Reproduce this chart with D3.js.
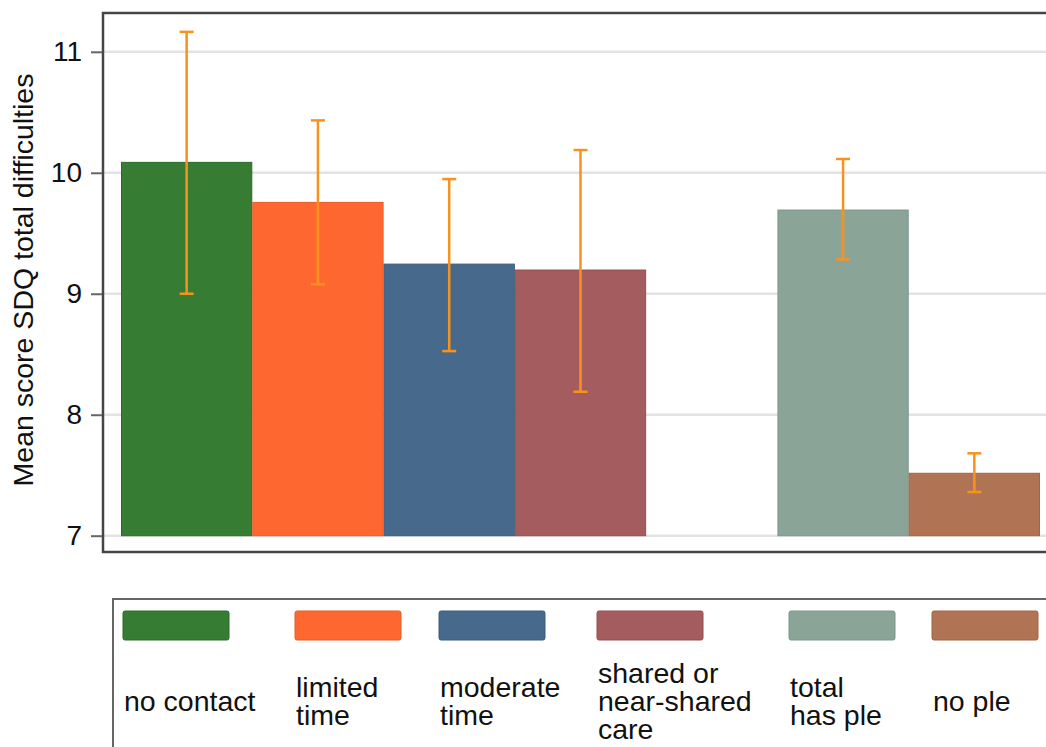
<!DOCTYPE html>
<html>
<head>
<meta charset="utf-8">
<script src="https://cdn.jsdelivr.net/npm/d3@7"></script>
<style>
  html, body { margin: 0; padding: 0; background: #fff; }
  svg { display: block; font-family: "Liberation Sans", Arial, Helvetica, sans-serif; }
</style>
</head>
<body>
<svg id="chart" width="1046" height="747"></svg>
<script>
// ---- data ----
const categories = ["no contact", "limited time", "moderate time", "shared or near-shared care", "total has ple", "no ple"];
const means  = [10.086, 9.755, 9.245, 9.196, 9.692, 7.516];
const ciLow  = [9.000, 9.078, 8.526, 8.190, 9.284, 7.361];
const ciHigh = [11.165, 10.433, 9.948, 10.188, 10.114, 7.681];
const legendLabels = [["no contact"], ["limited", "time"], ["moderate", "time"], ["shared or", "near-shared", "care"], ["total", "has ple"], ["no ple"]];
const yTicks = [7, 8, 9, 10, 11];
const yTitle = "Mean score SDQ total difficulties";

// ---- styles ----
const colors = ["#367c33", "#fe6830", "#476a8c", "#a45c5f", "#8ba498", "#b07454"];
const strokeColors = ["#2a6a28", "#e85a25", "#3a5c7e", "#944c50", "#7b968b", "#a06446"];
const errColor = "#f8921f";

const svg = d3.select("#chart");
const frame = { left: 103, top: 13, right: 1058, bottom: 552 };

// slot layout: first group of four, an empty slot, then second group of two
const slots = [categories[0], categories[1], categories[2], categories[3], "__gap__", categories[4], categories[5]];
const x = d3.scaleBand().domain(slots).range([121, 1040]).paddingInner(0).paddingOuter(0);
const y = d3.scaleLinear().domain([7, 11]).range([535.7, 51.8]);

// grid lines
svg.append("g").selectAll("line").data(yTicks).join("line")
  .attr("x1", frame.left).attr("x2", frame.right)
  .attr("y1", d => y(d)).attr("y2", d => y(d))
  .attr("stroke", "#e3e3e3").attr("stroke-width", 2.5);

// bars
const rows = categories.map((c, i) => ({ c, m: means[i], lo: ciLow[i], hi: ciHigh[i], i }));
svg.append("g").selectAll("rect").data(rows).join("rect")
  .attr("x", d => x(d.c) + 0.5)
  .attr("y", d => y(d.m))
  .attr("width", x.bandwidth() - 1)
  .attr("height", d => y(7) - y(d.m))
  .attr("fill", d => colors[d.i])
  .attr("stroke", d => strokeColors[d.i])
  .attr("stroke-width", 1);

// error bars
const eg = svg.append("g").attr("stroke", errColor).attr("stroke-width", 2.5).attr("fill", "none");
rows.forEach(d => {
  const cx = x(d.c) + x.bandwidth() / 2;
  eg.append("line").attr("x1", cx).attr("x2", cx).attr("y1", y(d.lo)).attr("y2", y(d.hi));
  eg.append("line").attr("x1", cx - 7).attr("x2", cx + 7).attr("y1", y(d.lo)).attr("y2", y(d.lo));
  eg.append("line").attr("x1", cx - 7).attr("x2", cx + 7).attr("y1", y(d.hi)).attr("y2", y(d.hi));
});

// frame
svg.append("rect")
  .attr("x", frame.left).attr("y", frame.top)
  .attr("width", frame.right - frame.left).attr("height", frame.bottom - frame.top)
  .attr("fill", "none").attr("stroke", "#454545").attr("stroke-width", 2.5);

// y axis
const yAxis = d3.axisLeft(y).tickValues(yTicks).tickSize(11).tickPadding(9).tickFormat(d3.format("d"));
const ga = svg.append("g").attr("transform", `translate(${frame.left - 1},0)`).call(yAxis);
ga.select(".domain").remove();
ga.selectAll(".tick line").attr("stroke", "#666").attr("stroke-width", 2);
ga.selectAll(".tick text").attr("font-size", 28).attr("fill", "#111")
  .attr("font-family", "'Liberation Sans', Arial, sans-serif");

// y title
svg.append("text")
  .attr("transform", `translate(33, 280) rotate(-90)`)
  .attr("text-anchor", "middle")
  .attr("font-size", 28.5)
  .attr("fill", "#111")
  .text(yTitle);

// legend
svg.append("rect")
  .attr("x", 113).attr("y", 599).attr("width", 1000).attr("height", 200)
  .attr("fill", "none").attr("stroke", "#666").attr("stroke-width", 2);

const legendX = [123, 295, 439, 597, 789, 932];
const lg = svg.append("g").selectAll("g").data(rows).join("g")
  .attr("transform", d => `translate(${legendX[d.i]},0)`);
lg.append("rect")
  .attr("x", 0).attr("y", 611).attr("width", 106).attr("height", 29).attr("rx", 2)
  .attr("fill", d => colors[d.i]).attr("stroke", d => strokeColors[d.i]).attr("stroke-width", 1);
lg.each(function(d) {
  const lines = legendLabels[d.i];
  const lh = 28;
  const startY = 702 - (lines.length - 1) * lh / 2 + 9;
  const t = d3.select(this).append("text").attr("font-size", 28.5).attr("fill", "#111");
  lines.forEach((s, k) => {
    t.append("tspan").attr("x", 1).attr("y", startY + k * lh).text(s);
  });
});
</script>
</body>
</html>
